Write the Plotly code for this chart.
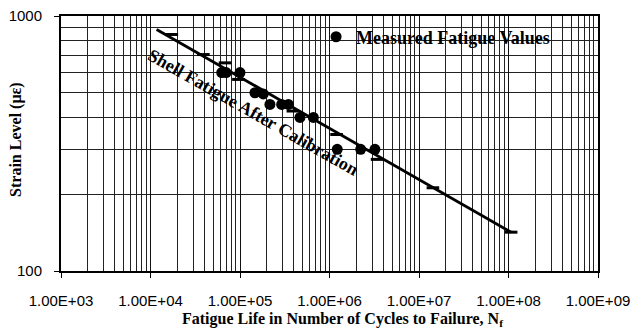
import plotly.graph_objects as go

# Measured fatigue values (cycles, strain in microstrain)
measured_cycles = [6.25e4, 7.0e4, 1.0e5, 1.47e5, 1.82e5, 2.16e5, 2.92e5, 3.47e5,
                   4.68e5, 6.6e5, 1.22e6, 2.23e6, 3.22e6]
measured_strain = [600, 600, 600, 500, 495, 450, 450, 450, 400, 400, 300, 300, 300]

# Calibrated shell fatigue curve
curve_cycles = [1.17e4, 1.07e8]
curve_strain = [885, 142]
curve_mark_cycles = [1.73e4, 3.9e4, 6.8e4, 9.6e4, 3.9e5, 1.2e6, 3.4e6, 1.43e7, 1.07e8]
curve_mark_strain = [846, 706, 655, 564, 424, 343, 274, 212, 142]

x_tickvals = [1e3, 1e4, 1e5, 1e6, 1e7, 1e8, 1e9]
x_ticktext = ["1.00E+03", "1.00E+04", "1.00E+05", "1.00E+06", "1.00E+07", "1.00E+08", "1.00E+09"]
y_tickvals = [100, 1000]
y_ticktext = ["100", "1000"]

serif = "Liberation Serif, Times New Roman, serif"
sans = "Liberation Sans, Arial, sans-serif"

fig = go.Figure()
fig.add_trace(go.Scatter(x=curve_cycles, y=curve_strain, mode="lines",
                         line=dict(color="black", width=2.8), showlegend=False,
                         hoverinfo="skip"))
fig.add_trace(go.Scatter(x=curve_mark_cycles, y=curve_mark_strain, mode="markers",
                         marker=dict(symbol="line-ew", size=9,
                                     line=dict(color="black", width=3)),
                         showlegend=False))
fig.add_trace(go.Scatter(x=measured_cycles, y=measured_strain, mode="markers",
                         name="<b>Measured Fatigue Values</b>",
                         marker=dict(symbol="circle", size=11, color="black")))

common = dict(showgrid=True, gridcolor="#111", gridwidth=1, zeroline=False,
              ticks="outside", ticklen=5, tickcolor="black", tickwidth=1,
              showline=True, linecolor="black", linewidth=2, mirror=True,
              automargin=False,
              minor=dict(showgrid=True, gridcolor="#222", gridwidth=1, dtick="D1", ticks=""),
              tickfont=dict(family=sans, size=15, color="black"))
fig.update_xaxes(type="log", range=[3, 9], tickvals=x_tickvals, ticktext=x_ticktext,
                 ticklabelstandoff=10, **common)
fig.update_yaxes(type="log", range=[2, 3], tickvals=y_tickvals, ticktext=y_ticktext,
                 ticklabelstandoff=9, **common)

fig.add_annotation(text="<b>Shell Fatigue After Calibration</b>", x=5.14, y=2.622,
                   xref="x", yref="y", showarrow=False, textangle=29.5,
                   font=dict(family=serif, size=18, color="black"))
fig.add_annotation(text="<b>Fatigue Life in Number of Cycles to Failure, N<sub>f</sub></b>",
                   x=0.524, y=-0.19, xref="paper", yref="paper", showarrow=False,
                   xanchor="center", yanchor="middle",
                   font=dict(family=serif, size=16, color="black"))
fig.add_annotation(text="<b>Strain Level (\u03bc\u03b5)</b>",
                   x=-0.084, y=0.5176, xref="paper", yref="paper", showarrow=False,
                   xanchor="center", yanchor="middle", textangle=-90,
                   font=dict(family=serif, size=16, color="black"))

fig.update_layout(width=638, height=331, margin=dict(l=61, r=40, t=16, b=60),
                  plot_bgcolor="white", paper_bgcolor="white",
                  legend=dict(x=0.475, y=0.99, xanchor="left", yanchor="top",
                              bgcolor="rgba(0,0,0,0)", borderwidth=0,
                              font=dict(family=serif, size=18, color="black"),
                              itemwidth=30, tracegroupgap=0),
                  showlegend=True)

fig.write_html("out.html", config={"displayModeBar": False},
               post_script="document.body.style.margin='0';document.body.style.overflow='hidden';")
